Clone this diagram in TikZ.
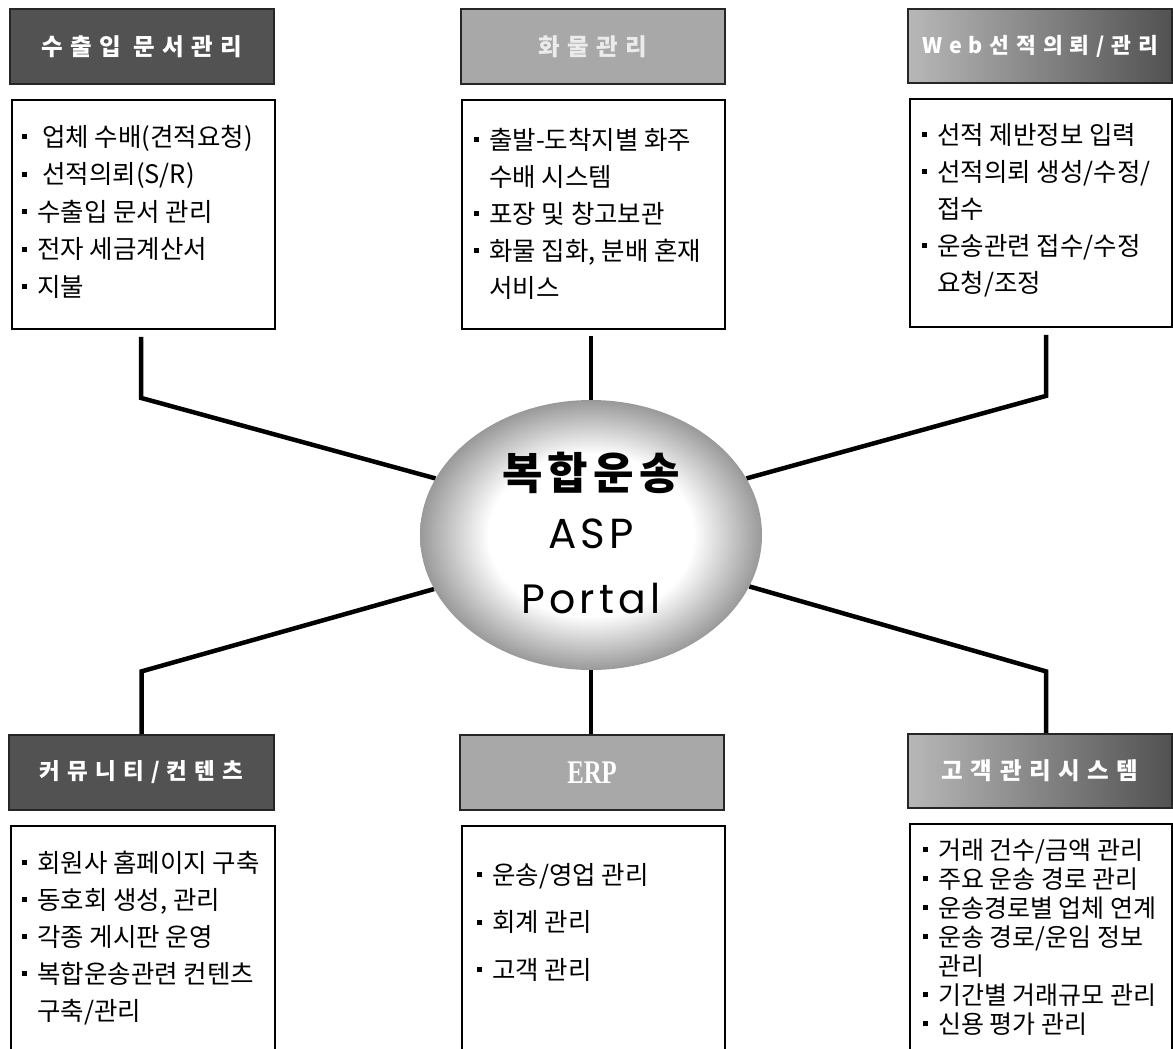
\documentclass[tikz,border=0pt]{standalone}
\usepackage{fontspec}
\usepackage{graphicx}
\setmainfont{Noto Sans CJK KR}
\newfontfamily\hdrfont[LetterSpace=32]{Noto Sans CJK KR}
\newfontfamily\hubfont[LetterSpace=12]{Noto Sans CJK KR}
\newfontfamily\geofont[LetterSpace=10]{Poppins}
\newfontfamily\erpfont{Liberation Serif}
\usetikzlibrary{shapes.geometric}
\pgfdeclarelayer{bg}
\pgfsetlayers{bg,main}
\pgfdeclareradialshading{hubshade}{\pgfpoint{0bp}{0bp}}{color(0bp)=(white); color(15bp)=(white); color(25bp)=(black!40); color(35bp)=(black!52); color(50bp)=(black!52)}
\definecolor{hdark}{gray}{0.32}
\definecolor{hlight}{gray}{0.66}
\definecolor{hmidl}{gray}{0.72}
\newcommand\blt{\makebox[15pt][l]{\rule[7pt]{5pt}{5pt}}}
\newcommand\ind{\hspace*{15pt}}
\tikzset{
  hdr/.style={draw=black!85, line width=1.2pt, minimum width=264pt, minimum height=75pt, inner sep=0pt, text=white,
    font=\hdrfont\bfseries\fontsize{23.5}{26}\selectfont},
  cbox/.style={draw=black, line width=1.8pt, inner sep=0pt},
  ctext/.style={anchor=base west, align=left, inner sep=0pt, font=\fontsize{25.5}{37}\selectfont},
  conn/.style={line width=4.5pt, line join=miter, line cap=butt},
}
\begin{document}
\begin{tikzpicture}[x=1pt,y=-1pt]
\useasboundingbox (0,0) rectangle (1173,1049);
\clip (0,0) rectangle (1173,1049);

% hub
\node[ellipse, minimum width=342pt, minimum height=270pt, inner sep=0pt, shading=hubshade] (hub) at (591,535) {};
\node[anchor=base, inner sep=0pt, font=\hubfont\bfseries\fontsize{44}{44}\selectfont] (ht1) at (591,489) {복합운송};
\node[anchor=base, inner sep=0pt, font=\geofont\fontsize{42}{42}\selectfont] (ht2) at (591,548) {ASP};
\node[anchor=base, inner sep=0pt, font=\geofont\fontsize{41}{41}\selectfont] (ht3) at (591,613) {Portal};

% headers
\node[hdr, fill=hdark] (h1) at (142,46.5) {수출입\hspace{12pt}문서관리};
\node[hdr, fill=hlight, text=white!92!black] (h2) at (593,46.5) {화물관리};
\node[hdr, left color=hmidl, right color=hdark, minimum height=74pt, font=\hdrfont\bfseries\fontsize{21.5}{24}\selectfont] (h3) at (1040,46) {Web선적의뢰/관리};
\node[hdr, fill=hdark, minimum width=265pt, font=\hdrfont\bfseries\fontsize{22.5}{24}\selectfont] (h4) at (141.5,772.5) {커뮤니티/컨텐츠};
\node[hdr, fill=hlight] (h5) at (592,772.5) {\erpfont\bfseries\fontsize{33}{33}\selectfont\scalebox{0.75}[1]{ERP}};
\node[hdr, left color=hmidl, right color=hdark, minimum height=74pt] (h6) at (1040,771) {고객관리시스템};

% content boxes
\node[cbox, minimum width=263pt, minimum height=229pt] (b1) at (143.5,214.5) {};
\node[cbox, minimum width=263pt, minimum height=229pt] (b2) at (593.5,214.5) {};
\node[cbox, minimum width=262pt, minimum height=228pt] (b3) at (1041,213) {};
\node[cbox, minimum width=264pt, minimum height=244pt] (b4) at (143,948) {};
\node[cbox, minimum width=263pt, minimum height=244pt] (b5) at (593.5,948) {};
\node[cbox, minimum width=262pt, minimum height=246pt] (b6) at (1041,947) {};

% content texts (anchor = baseline of the last line)
\node[ctext, font=\fontsize{25.5}{37.5}\selectfont] (t1) at (22,296) {\blt\hspace{5pt}업체 수배(견적요청)\\ \blt\hspace{5pt}선적의뢰(S/R)\\ \blt 수출입 문서 관리\\ \blt 전자 세금계산서\\ \blt 지불};
\node[ctext] (t2) at (474,297) {\blt 출발-도착지별 화주\\ \ind 수배 시스템\\ \blt 포장 및 창고보관\\ \blt 화물 집화, 분배 혼재\\ \ind 서비스};
\node[ctext] (t3) at (922,292) {\blt 선적 제반정보 입력\\ \blt 선적의뢰 생성/수정/\\ \ind 접수\\ \blt 운송관련 접수/수정\\ \ind 요청/조정};
\node[ctext] (t4) at (22,1020) {\blt 회원사 홈페이지 구축\\ \blt 동호회 생성, 관리\\ \blt 각종 게시판 운영\\ \blt 복합운송관련 컨텐츠\\ \ind 구축/관리};
\node[ctext, font=\fontsize{25.5}{47.5}\selectfont] (t5) at (477,979) {\blt 운송/영업 관리\\ \blt 회계 관리\\ \blt 고객 관리};
\node[ctext, font=\fontsize{25}{29}\selectfont] (t6) at (923,1033) {\blt 거래 건수/금액 관리\\ \blt 주요 운송 경로 관리\\ \blt 운송경로별 업체 연계\\ \blt 운송 경로/운임 정보\\ \ind 관리\\ \blt 기간별 거래규모 관리\\ \blt 신용 평가 관리};

% connectors
\begin{pgfonlayer}{bg}
\draw[conn] ([xshift=-2.5pt,yshift=-7pt]b1.south) -- ++(0,61) -- (hub.160);
\draw[conn] (hub.north) -- ++(0,-64);
\draw[conn] ([xshift=5pt,yshift=-7pt]b3.south) -- ++(0,61) -- (hub.20);
\draw[conn] (hub.199) -- ([yshift=63pt]h4.north) -- (h4.north);
\draw[conn] (hub.south) -- (hub.south |- h5.north);
\draw[conn] (hub.-18) -- ([xshift=6pt,yshift=62pt]h6.north) -- ([xshift=6pt]h6.north);
\end{pgfonlayer}
\end{tikzpicture}
\end{document}
